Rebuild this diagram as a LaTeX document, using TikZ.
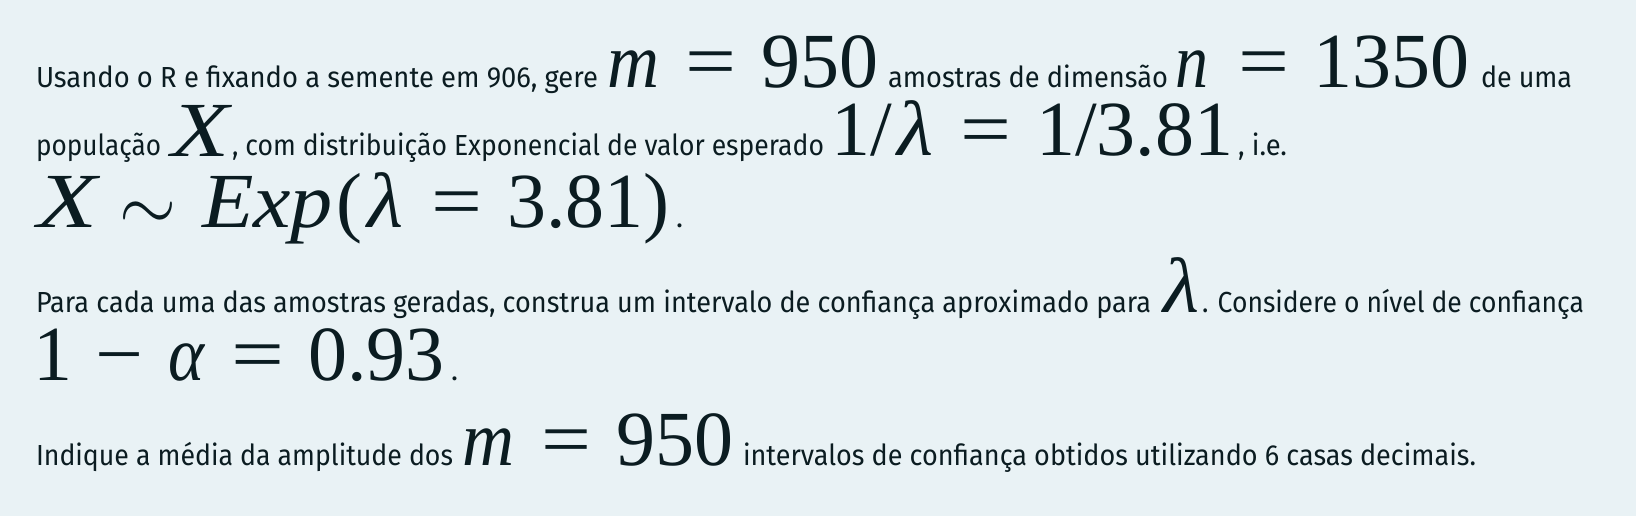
\RequirePackage{fix-cm}
\documentclass[tikz,border=0pt]{standalone}
\usepackage{fontspec}
\usepackage{graphicx}
\setmainfont{Fira Sans}
\newfontfamily\mfont{Liberation Serif}
\definecolor{bg}{HTML}{E9F2F5}
\definecolor{ink}{HTML}{0B1C21}
\newcommand\txtsz{\fontsize{29}{34}\selectfont}
\newcommand\msz{\fontsize{78}{80}\selectfont}
\newcommand\fitT[2]{\resizebox{#1pt}{\height}{\txtsz #2}}
\newcommand\fitM[2]{\resizebox{#1pt}{\height}{\mfont\msz\itshape #2}}
\newcommand\fitU[2]{\resizebox{#1pt}{\height}{\mfont\msz #2}}
\newcommand\upM[1]{{\mfont\msz #1}}
\begin{document}
\begin{tikzpicture}[x=1pt,y=-1pt,
  every node/.style={inner sep=0pt, outer sep=0pt, anchor=base west, text=ink}]
\fill[bg] (0,0) rectangle (1636,516);
\useasboundingbox (0,0) rectangle (1636,516);
% line 1
\node (t1a) at (36,88) {\fitT{562}{Usando o R e fixando a semente em 906, gere}};
\node (m1a) at (607,88) {\fitM{52}{m}};
\node (m1b) at (685,88) {\fitU{51}{=}};
\node (m1c) at (761,88) {\upM{950}};
\node (t1b) at (888,88) {\fitT{280}{amostras de dimensão}};
\node (m1d) at (1175,88) {\fitM{33}{n}};
\node (m1e) at (1238,88) {\fitU{51}{=}};
\node (m1f) at (1313,88) {\upM{1350}};
\node (t1c) at (1481,88) {\fitT{91}{de uma}};
% line 2
\node (t2a) at (36,156) {\fitT{125}{população}};
\node (m2a) at (171,156) {\fitM{58}{X}};
\node (t2b) at (232,156) {\fitT{592}{, com distribuição Exponencial de valor esperado}};
\node (m2b) at (831,156) {\upM{1/}};
\node (m2c) at (897,156) {\fitM{36}{λ}};
\node (m2d) at (960,156) {\fitU{51}{=}};
\node (m2e) at (1036,156) {\upM{1/3.81}};
\node (t2c) at (1238,156) {\fitT{49}{, i.e.}};
% line 3
\node (m3a) at (37,227) {\fitM{60}{X}};
\node (m3b) at (119,230) {\resizebox{57pt}{\height}{\msz$\sim$}};
\node (m3c) at (202,227) {\fitM{131}{Exp}};
\node (m3d) at (336,227) {\upM{(}};
\node (m3e) at (367,227) {\fitM{36}{λ}};
\node (m3f) at (431,227) {\fitU{51}{=}};
\node (m3g) at (507,227) {\upM{3.81)}};
\node (t3a) at (676,227) {\txtsz .};
% line 4
\node (t4a) at (36,312) {\fitT{1115}{Para cada uma das amostras geradas, construa um intervalo de confiança aproximado para}};
\node (m4a) at (1163,312) {\fitM{36}{λ}};
\node (t4b) at (1202,312) {\fitT{382}{. Considere o nível de confiança}};
% line 5
\node (m5a) at (34,380) {\upM{1}};
\node (m5b) at (95,380) {\fitU{48}{−}};
\node (m5c) at (168,380) {\fitM{36}{α}};
\node (m5d) at (231,380) {\fitU{53}{=}};
\node (m5e) at (308,380) {\upM{0.93}};
\node (t5a) at (451,380) {\txtsz .};
% line 6
\node (t6a) at (36,465) {\fitT{417}{Indique a média da amplitude dos}};
\node (m6a) at (462,465) {\fitM{52}{m}};
\node (m6b) at (541,465) {\fitU{50}{=}};
\node (m6c) at (616,465) {\upM{950}};
\node (t6b) at (743,465) {\fitT{733}{intervalos de confiança obtidos utilizando 6 casas decimais.}};
\end{tikzpicture}
\end{document}
